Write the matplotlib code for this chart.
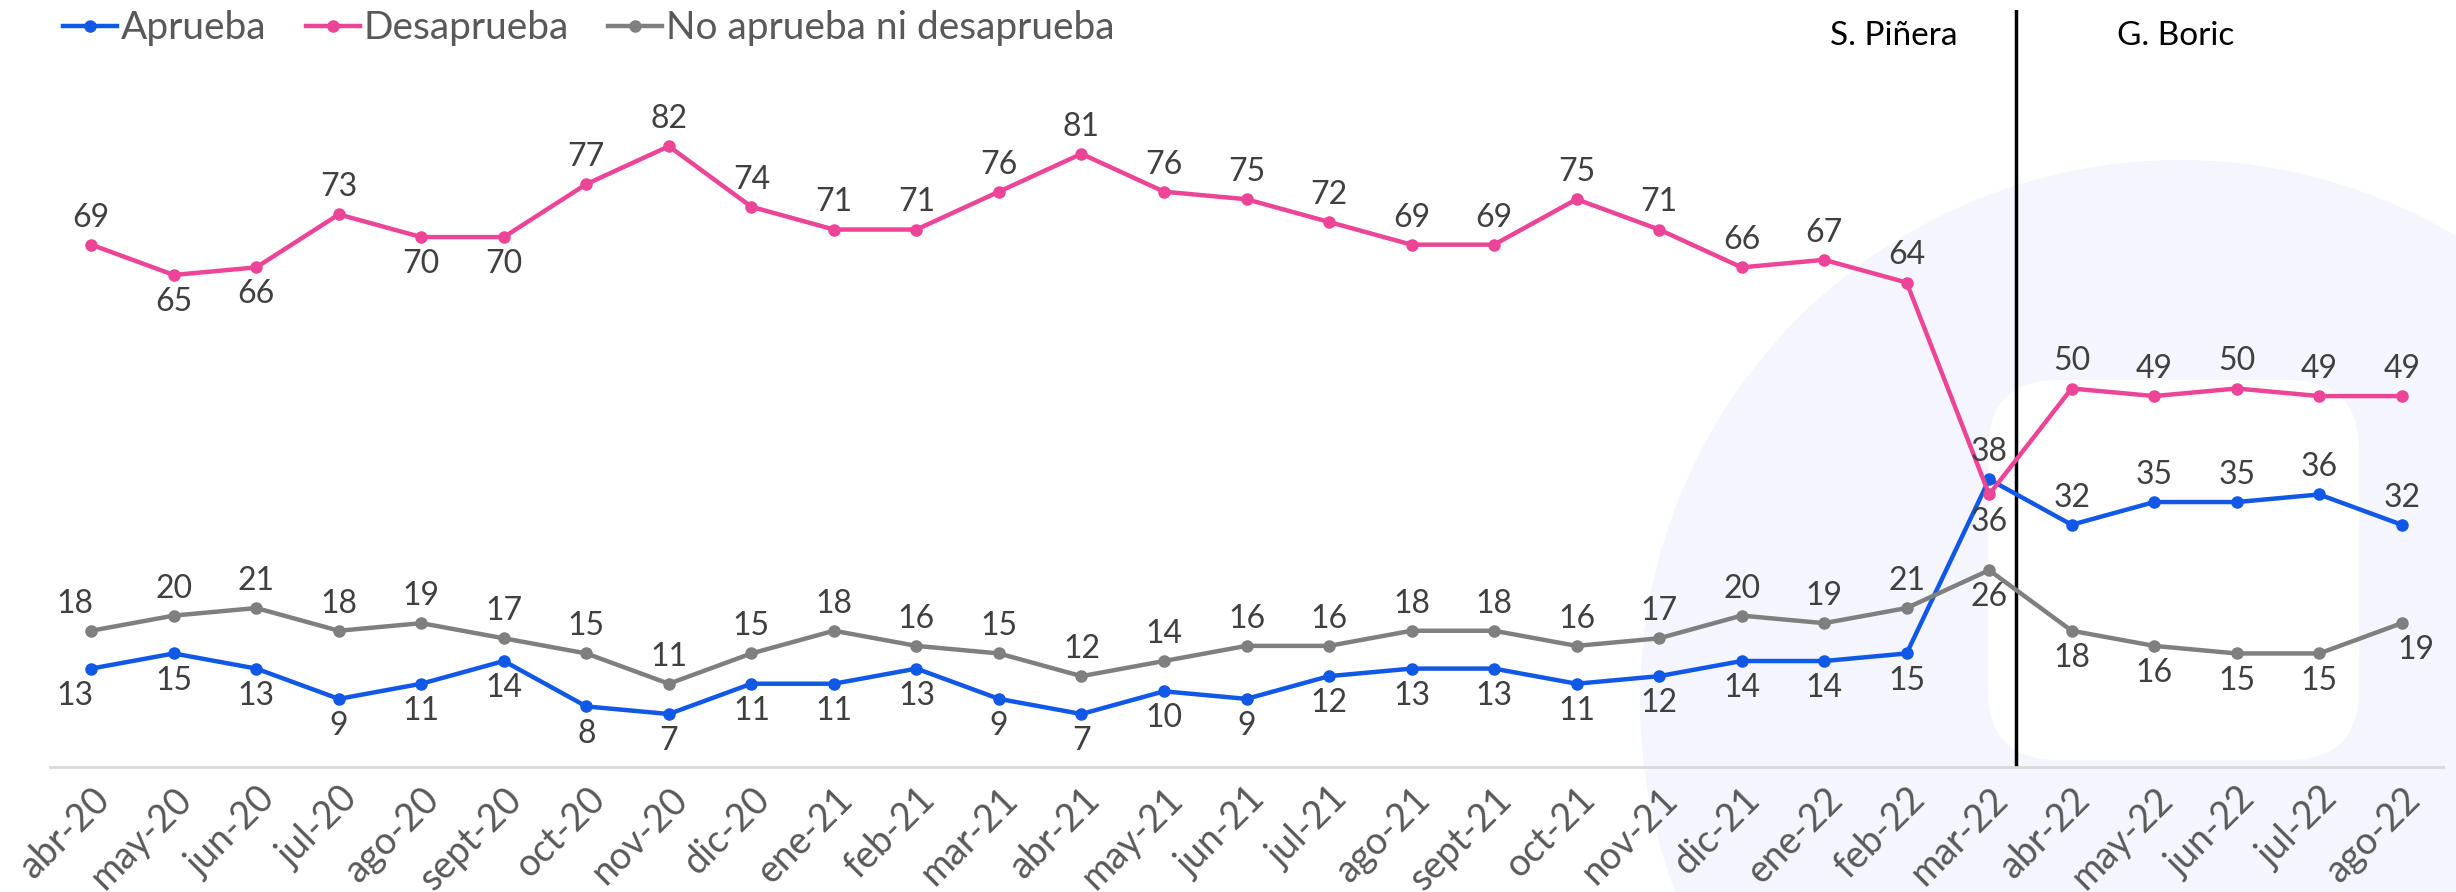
import numpy as np
import matplotlib
matplotlib.use('Agg')
import matplotlib.pyplot as plt
from matplotlib.patches import Circle, FancyBboxPatch

months = ['abr-20', 'may-20', 'jun-20', 'jul-20', 'ago-20', 'sept-20', 'oct-20', 'nov-20',
          'dic-20', 'ene-21', 'feb-21', 'mar-21', 'abr-21', 'may-21', 'jun-21', 'jul-21',
          'ago-21', 'sept-21', 'oct-21', 'nov-21', 'dic-21', 'ene-22', 'feb-22', 'mar-22',
          'abr-22', 'may-22', 'jun-22', 'jul-22', 'ago-22']
aprueba = [13, 15, 13, 9, 11, 14, 8, 7, 11, 11, 13, 9, 7, 10, 9, 12, 13, 13, 11, 12,
           14, 14, 15, 38, 32, 35, 35, 36, 32]
desaprueba = [69, 65, 66, 73, 70, 70, 77, 82, 74, 71, 71, 76, 81, 76, 75, 72, 69, 69, 75, 71,
              66, 67, 64, 36, 50, 49, 50, 49, 49]
ninguno = [18, 20, 21, 18, 19, 17, 15, 11, 15, 18, 16, 15, 12, 14, 16, 16, 18, 18, 16, 17,
           20, 19, 21, 26, 18, 16, 15, 15, 19]

# label placement: 1 above, -1 below
pos_apr = [-1] * 23 + [1] * 6
pos_des = [1, -1, -1, 1, -1, -1] + [1] * 17 + [-1] + [1] * 5
pos_nin = [1] * 23 + [-1] * 6

BLUE = '#1158E6'
PINK = '#EC4497'
GRAY = '#7F7F7F'
TXT = '#404040'

plt.rcParams['font.family'] = ['Lato', 'DejaVu Sans']

W, H = 2456, 892
fig = plt.figure(figsize=(W / 100, H / 100), dpi=100)

# faint watermark in the background
bg = fig.add_axes([0, 0, 1, 1], zorder=0)
bg.set_xlim(0, W)
bg.set_ylim(H, 0)
bg.axis('off')
bg.add_patch(Circle((2180, 700), 540, color='#F4F5FD', lw=0))
bg.add_patch(FancyBboxPatch((1988, 380), 371, 380, boxstyle='round,pad=0,rounding_size=70',
                            color='white', lw=0))

ax = fig.add_axes([50 / W, 1 - 767 / H, (2443 - 50) / W, (767 - 10) / H], zorder=1)
ax.patch.set_alpha(0)
x = np.arange(len(months))

series = [(aprueba, 'Aprueba', BLUE, pos_apr),
          (desaprueba, 'Desaprueba', PINK, pos_des),
          (ninguno, 'No aprueba ni desaprueba', GRAY, pos_nin)]
for vals, name, col, pos in series:
    ax.plot(x, vals, color=col, lw=3.2, marker='o', ms=8, label=name, zorder=3)
    for i, (v, p) in enumerate(zip(vals, pos)):
        dx = 0
        if i == 0 and name != 'Desaprueba':
            dx = -12
        if i == len(vals) - 1 and name == 'No aprueba ni desaprueba':
            dx = 10
        ax.annotate(str(v), (x[i], v), xytext=(dx, 19.5 * p), textcoords='offset points',
                    ha='center', va='center', fontsize=23, color=TXT, zorder=4)

ax.set_xlim(-0.5, len(months) - 0.5)
ax.set_ylim(0, 100)
ax.set_yticks([])
for s in ['top', 'right', 'left']:
    ax.spines[s].set_visible(False)
ax.spines['bottom'].set_color('#D9D9D9')
ax.spines['bottom'].set_linewidth(2)
ax.set_xticks(x)
ax.set_xticklabels(months, rotation=45, ha='right', rotation_mode='anchor',
                   fontsize=27, color='#595959')
ax.tick_params(axis='x', length=0, pad=10)

ax.axvline(23.33, ymin=0, ymax=1.0, color='black', lw=2.5, zorder=2)
ax.text(21.84, 96.5, 'S. Piñera', ha='center', va='center', fontsize=24, color='black')
ax.text(25.26, 96.5, 'G. Boric', ha='center', va='center', fontsize=24, color='black')

ax.legend(loc='upper left', bbox_to_anchor=(0.024, 0.993), bbox_transform=fig.transFigure,
          ncol=3, frameon=False, fontsize=28, labelcolor='#595959', handlelength=1.4,
          handletextpad=0.1, columnspacing=1.0, borderaxespad=0.05, borderpad=0.05)

fig.savefig('out.png', dpi=100)
